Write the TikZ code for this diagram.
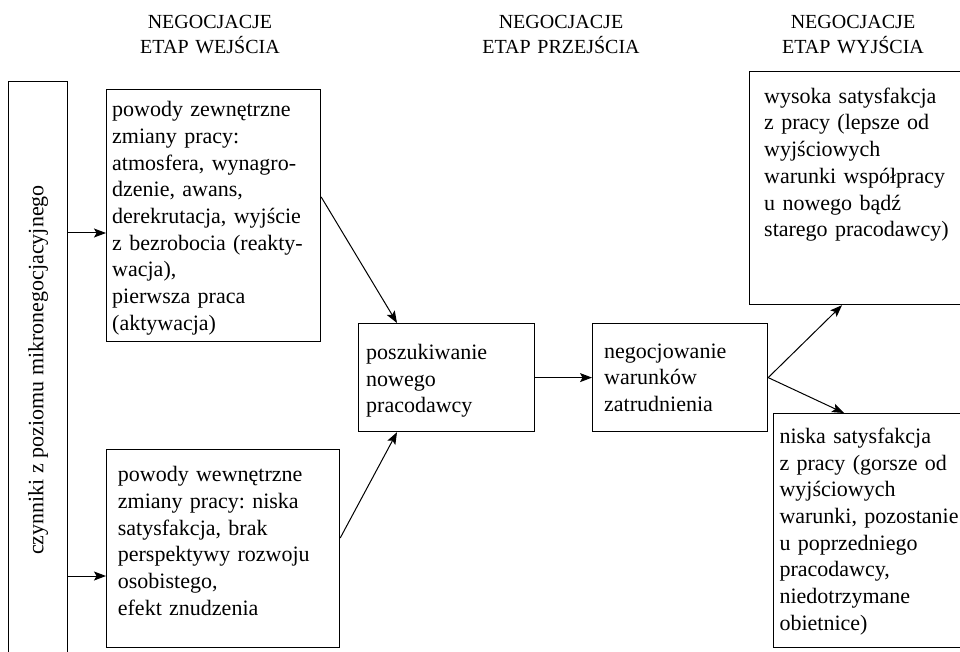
\documentclass[tikz,border=0pt]{standalone}
\usepackage{fontspec}
\setmainfont{Liberation Serif}
\usetikzlibrary{arrows.meta}
\frenchspacing
\newcommand{\bodysize}{\fontsize{22}{26.7}\selectfont}
\newcommand{\headsize}{\fontsize{20}{25}\selectfont}
\begin{document}
\begin{tikzpicture}[x=1pt,y=-1pt,
  box/.style={draw, line width=1.2pt, inner sep=0pt, anchor=north west},
  txt/.style={anchor=base west, inner sep=0pt, align=left, text width=260pt, font=\bodysize},
  head/.style={anchor=base, inner sep=0pt, align=center, text width=220pt, font=\headsize},
  arr/.style={line width=1pt, -{Stealth[length=12pt, width=9pt, inset=2.5pt]}}]
\useasboundingbox (0,0) rectangle (960,652);

% stage headings
\node[head] (h1) at (210,28.3) {NEGOCJACJE\\ETAP WEJŚCIA};
\node[head] (h2) at (561,28.3) {NEGOCJACJE\\ETAP PRZEJŚCIA};
\node[head] (h3) at (853,28.3) {NEGOCJACJE\\ETAP WYJŚCIA};

% boxes
\node[box, minimum width=59pt, minimum height=580pt] (L) at (8,81) {};
\node[box, minimum width=214pt, minimum height=252pt] (A) at (106,89) {};
\node[box, minimum width=233pt, minimum height=198pt] (B) at (106,449) {};
\node[box, minimum width=176pt, minimum height=108pt] (C) at (358,323) {};
\node[box, minimum width=175pt, minimum height=108pt] (D) at (592,323) {};
\node[box, minimum width=240pt, minimum height=233pt] (E) at (749,71) {};
\node[box, minimum width=220pt, minimum height=234pt] (F) at (773,413) {};

% box texts
\node[rotate=90, font=\bodysize, inner sep=0pt] (Lt) at (38,370) {czynniki z poziomu mikronegocjacyjnego};
\node[txt] (At) at (112,116.7) {powody zewnętrzne\\zmiany pracy:\\atmosfera, wynagro-\\dzenie, awans,\\derekrutacja, wyjście\\z bezrobocia (reakty-\\wacja),\\pierwsza praca\\(aktywacja)};
\node[txt] (Bt) at (117.7,481.7) {powody wewnętrzne\\zmiany pracy: niska\\satysfakcja, brak\\perspektywy rozwoju\\osobistego,\\efekt znudzenia};
\node[txt] (Ct) at (366,359.3) {poszukiwanie\\nowego\\pracodawcy};
\node[txt] (Dt) at (604,358) {negocjowanie\\warunków\\zatrudnienia};
\node[txt] (Et) at (764,103.3) {wysoka satysfakcja\\z pracy (lepsze od\\wyjściowych\\warunki współpracy\\u nowego bądź\\starego pracodawcy)};
\node[txt] (Ft) at (779.3,443.3) {niska satysfakcja\\z pracy (gorsze od\\wyjściowych\\warunki, pozostanie\\u poprzedniego\\pracodawcy,\\niedotrzymane\\obietnice)};

% connector anchor levels
\coordinate (ya) at (0,233);
\coordinate (yb) at (0,576);
\coordinate (a1) at (0,197);
\coordinate (b1) at (0,538);
\coordinate (cx) at (397,0);
\coordinate (ex) at (842,0);
\coordinate (fx) at (844,0);

% connectors
\draw[arr] (L.east |- ya) -- (A.west |- ya);
\draw[arr] (L.east |- yb) -- (B.west |- yb);
\draw[arr] (A.east |- a1) -- (C.north -| cx);
\draw[arr] (B.east |- b1) -- (C.south -| cx);
\draw[arr] (C.east) -- (D.west);
\draw[arr] (D.east) -- (E.south -| ex);
\draw[arr] (D.east) -- (F.north -| fx);
\end{tikzpicture}
\end{document}
